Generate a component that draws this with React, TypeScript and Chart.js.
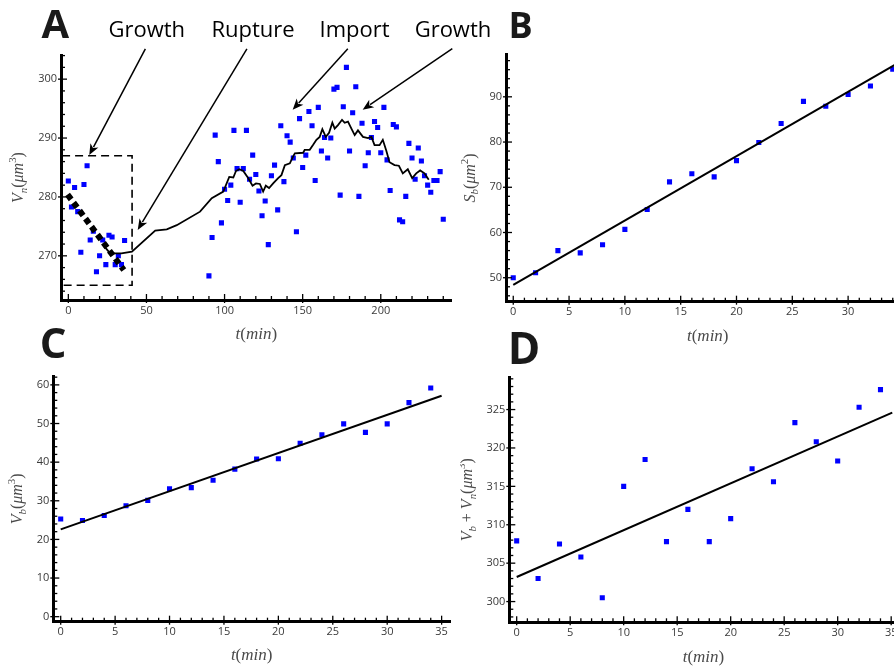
import React, { useEffect, useRef } from "react";
import { Chart, registerables } from "chart.js";

Chart.register(...registerables);

// ================= Panel A : nucleus volume =================
const A_T = [
  0, 2, 4, 6, 8, 10, 12, 14, 16, 18, 20, 22, 24, 26, 28, 30, 32, 34, 36,
  90, 92, 94, 96, 98, 100, 102, 104, 106, 108, 110, 112, 114, 116, 118, 120, 122, 124, 126, 128, 130, 132, 134, 136, 138, 140, 142, 144, 146,
  148, 150, 152, 154, 156, 158, 160, 162, 164, 166, 168, 170, 172, 174, 176, 178, 180, 182, 184, 186, 188, 190, 192, 194, 196,
  198, 200, 202, 204, 206, 208, 210, 212, 214, 216, 218, 220, 222, 224, 226, 228, 230, 232, 234, 236, 238, 240,
];
const A_V = [
  282.7, 278.3, 281.6, 277.5, 270.6, 282.1, 285.3, 272.7, 274.2, 267.3, 270.0, 272.7, 268.5, 273.5, 273.2, 268.5, 270.0, 268.5, 272.6,
  266.6, 273.1, 290.5, 286.0, 275.6, 281.3, 279.4, 282.0, 291.3, 284.8, 279.1, 284.8, 291.3, 283.0, 287.1, 283.8, 281.0, 276.8, 279.3, 271.9, 283.6, 285.4, 277.8, 292.1, 282.6, 290.4, 289.3, 286.6, 274.1,
  293.3, 285.0, 287.1, 294.5, 292.1, 282.8, 295.2, 287.8, 290.1, 286.6, 290.0, 298.3, 298.6, 280.3, 295.3, 302.0, 287.8, 294.3, 298.7, 280.1, 292.5, 285.3, 287.5, 290.1, 292.8,
  291.8, 287.5, 295.2, 286.3, 281.1, 292.3, 291.9, 276.1, 275.8, 280.1, 289.1, 286.6, 283.0, 288.3, 286.1, 283.6, 282.0, 280.8, 282.8, 282.8, 284.3, 276.2,
];
const A_LINE_T = [
  23, 26.5, 30, 34, 40.7, 55.6, 63, 69.4, 84.3, 91.8, 99.2, 103, 105.6, 107.3, 109.4, 112, 115.1, 117.9, 120.1, 122.6,
  124.7, 126.4, 128.5, 131.1, 134.3, 136.4, 138.6, 141.8, 143.9, 145, 150.3, 151.3, 154.5, 156.6, 158.8, 160.9, 162.6,
  164.8, 166.9, 169, 170.5, 172.6, 175.2, 176.9, 179, 181.2, 183.3, 185.4, 188.6, 191.8, 194, 196, 199.2, 201.3, 203.5,
  205.6, 208.8, 211.6, 214.1, 217.3, 220.1, 222.7, 225.2, 228, 230.7,
];
const A_LINE_V = [
  271.6, 270.5, 270.4, 270.4, 270.7, 274.3, 274.5, 275.2, 277.5, 279.8, 280.9, 283.4, 283.3, 284.4, 284.7, 284.4, 283.2, 281.9, 282.3, 282.2,
  280.9, 281.9, 281.5, 282.3, 283.2, 283.7, 285.4, 285.7, 286.9, 287.4, 287.5, 288, 288, 288.8, 289.7, 290.2, 291.5,
  290.2, 290.9, 292.6, 291.6, 292.2, 293.1, 292.6, 292.8, 291.6, 290.5, 291.3, 290.2, 290, 290.2, 288.8, 288.8, 289.7, 287.9,
  285.9, 285.4, 285.3, 284, 284.7, 283.2, 284, 284.5, 284, 282.9,
];
const A_FIT_T = [-0.5, 35.5];
const A_FIT_V = [280.4, 267.6];
const A_BOX_T = [-4, 40.8];
const A_BOX_V = [265, 287];
const A_XTICKS = [0, 50, 100, 150, 200];
const A_YTICKS = [270, 280, 290, 300];
const A_LABELS = ["Growth", "Rupture", "Import", "Growth"];
const A_LABEL_T = [50.2, 118.2, 183.2, 246.2];
const A_LABEL_V = 307.2;
const A_ARROW_TAIL_T = [49.3, 114.3, 178.9, 245.8];
const A_ARROW_TAIL_V = [305.15, 305.15, 305.15, 305.2];
const A_ARROW_TIP_T = [13.4, 44.4, 143.6, 188.4];
const A_ARROW_TIP_V = [287.1, 274.4, 294.8, 294.8];

// ================= Panels B, C, D =================
const T = [0, 2, 4, 6, 8, 10, 12, 14, 16, 18, 20, 22, 24, 26, 28, 30, 32, 34];
const B_S = [50.0, 51.1, 56.0, 55.5, 57.3, 60.7, 65.1, 71.2, 73.0, 72.3, 75.9, 79.9, 84.1, 89.0, 87.9, 90.5, 92.4, 96.1];
const B_FIT_T = [0, 35];
const B_FIT_S = [48.4, 98.2];
const B_XTICKS = [0, 5, 10, 15, 20, 25, 30, 35];
const B_YTICKS = [50, 60, 70, 80, 90];

const C_V = [25.3, 24.9, 26.2, 28.7, 30.1, 33.1, 33.4, 35.3, 38.2, 40.8, 40.9, 44.9, 47.1, 49.9, 47.7, 49.9, 55.4, 59.2];
const C_FIT_T = [0, 35];
const C_FIT_V = [22.6, 57.2];
const C_XTICKS = [0, 5, 10, 15, 20, 25, 30, 35];
const C_YTICKS = [0, 10, 20, 30, 40, 50, 60];

const D_V = [307.9, 303.0, 307.5, 305.8, 300.5, 315.0, 318.5, 307.8, 312.0, 307.8, 310.8, 317.3, 315.6, 323.3, 320.8, 318.3, 325.3, 327.6];
const D_FIT_T = [0, 35.1];
const D_FIT_V = [303.2, 324.6];
const D_XTICKS = [0, 5, 10, 15, 20, 25, 30, 35];
const D_YTICKS = [300, 305, 310, 315, 320, 325];

// ================= styling =================
const BLUE = "#0000ff";
const TICK_FONT = { family: "'Open Sans', sans-serif", size: 11 };
const TICK_COLOR = "#3a3a3a";
const TITLE_COLOR = "#4a4a4a";

type Part = { t: string; it?: boolean; sub?: boolean; sup?: boolean };

const X_TITLE: Part[] = [{ t: "t", it: true }, { t: "(" }, { t: "min", it: true }, { t: ")" }];
const A_Y_TITLE: Part[] = [{ t: "V", it: true }, { t: "n", it: true, sub: true }, { t: "(" }, { t: "μm", it: true }, { t: "3", sup: true }, { t: ")" }];
const B_Y_TITLE: Part[] = [{ t: "S", it: true }, { t: "b", it: true, sub: true }, { t: "(" }, { t: "μm", it: true }, { t: "2", sup: true }, { t: ")" }];
const C_Y_TITLE: Part[] = [{ t: "V", it: true }, { t: "b", it: true, sub: true }, { t: "(" }, { t: "μm", it: true }, { t: "3", sup: true }, { t: ")" }];
const D_Y_TITLE: Part[] = [
  { t: "V", it: true }, { t: "b", it: true, sub: true }, { t: " + " }, { t: "V", it: true }, { t: "n", it: true, sub: true },
  { t: "(" }, { t: "μm", it: true }, { t: "3", sup: true }, { t: ")" },
];

function drawMath(ctx: CanvasRenderingContext2D, parts: Part[], cx: number, cy: number, size: number, rotated: boolean) {
  ctx.save();
  ctx.translate(cx, cy);
  if (rotated) ctx.rotate(-Math.PI / 2);
  const fontFor = (p: Part) => `${p.it ? "italic " : ""}${p.sub || p.sup ? size * 0.68 : size}px 'Liberation Serif', serif`;
  const widths = parts.map((p) => {
    ctx.font = fontFor(p);
    return ctx.measureText(p.t).width;
  });
  const total = widths.reduce((a, b) => a + b, 0);
  let x = -total / 2;
  ctx.textAlign = "left";
  ctx.textBaseline = "alphabetic";
  const base = size * 0.255;
  parts.forEach((p, i) => {
    ctx.font = fontFor(p);
    const dy = p.sub ? size * 0.22 : p.sup ? -size * 0.42 : 0;
    ctx.fillText(p.t, x, base + dy);
    x += widths[i];
  });
  ctx.restore();
}

const pts = (xs: number[], ys: number[]) => xs.map((x, i) => ({ x, y: ys[i] }));

const scatterSet = (xs: number[], ys: number[]) => ({
  data: pts(xs, ys),
  showLine: false,
  pointStyle: "rect",
  pointRadius: 3.6,
  pointBorderWidth: 0,
  pointBackgroundColor: BLUE,
  pointBorderColor: BLUE,
});

const lineSet = (xs: number[], ys: number[], width: number, dash: number[] = []) => ({
  data: pts(xs, ys),
  showLine: true,
  borderColor: "#000",
  borderWidth: width,
  borderDash: dash,
  pointRadius: 0,
  tension: 0,
  fill: false,
});

interface Spec {
  left: number; top: number; width: number; height: number;
  pad: { left: number; top: number; right: number; bottom: number };
  yWidth: number; xHeight: number;
  xMin: number; xMax: number; xTicks: number[]; xMajor: number; xMinor: number;
  yMin: number; yMax: number; yTicks: number[]; yMajor: number; yMinor: number;
  datasets: any[];
  yTitle: Part[]; yTitleOffset: number; xTitleOffset: number;
  letter: string; letterX: number; letterY: number; letterSize: number;
  extra?: (chart: any) => void;
}

function framePlugin(spec: Spec) {
  return {
    id: "frame" + spec.letter,
    afterDraw(chart: any) {
      const { ctx, chartArea: ca, scales } = chart;
      const xs = scales.x;
      const ys = scales.y;
      ctx.save();
      ctx.strokeStyle = "#000";
      ctx.lineWidth = 1.3;
      const xr = Math.round(spec.xMajor / spec.xMinor);
      for (let k = Math.ceil(spec.xMin / spec.xMinor); k * spec.xMinor <= spec.xMax + 1e-9; k++) {
        const p = xs.getPixelForValue(k * spec.xMinor);
        const major = k % xr === 0;
        ctx.beginPath();
        ctx.moveTo(p, ca.bottom + (major ? 3 : 0));
        ctx.lineTo(p, ca.bottom - (major ? 6 : 4));
        ctx.stroke();
      }
      const yr = Math.round(spec.yMajor / spec.yMinor);
      for (let k = Math.ceil(spec.yMin / spec.yMinor); k * spec.yMinor <= spec.yMax + 1e-9; k++) {
        const p = ys.getPixelForValue(k * spec.yMinor);
        const major = k % yr === 0;
        ctx.beginPath();
        ctx.moveTo(ca.left - (major ? 3 : 0), p);
        ctx.lineTo(ca.left + (major ? 6 : 4), p);
        ctx.stroke();
      }
      ctx.fillStyle = TITLE_COLOR;
      drawMath(ctx, X_TITLE, (ca.left + ca.right) / 2, ca.bottom + spec.xTitleOffset, 17, false);
      drawMath(ctx, spec.yTitle, ca.left - spec.yTitleOffset, (ca.top + ca.bottom) / 2, 16, true);
      ctx.fillStyle = "#1a1a1a";
      ctx.font = `700 ${spec.letterSize}px 'Open Sans', sans-serif`;
      ctx.textAlign = "left";
      ctx.textBaseline = "alphabetic";
      ctx.fillText(spec.letter, spec.letterX, spec.letterY);
      if (spec.extra) spec.extra(chart);
      ctx.restore();
    },
  };
}

function buildConfig(spec: Spec): any {
  const axisCommon = {
    type: "linear",
    grid: { display: false, drawTicks: false },
    border: { display: true, width: 3, color: "#000" },
  };
  return {
    type: "scatter",
    data: { datasets: spec.datasets },
    options: {
      animation: false,
      responsive: false,
      events: [],
      layout: { padding: spec.pad },
      plugins: { legend: { display: false }, tooltip: { enabled: false } },
      scales: {
        x: {
          ...axisCommon,
          position: "bottom",
          min: spec.xMin,
          max: spec.xMax,
          afterFit: (s: any) => { s.height = spec.xHeight; },
          afterBuildTicks: (s: any) => { s.ticks = spec.xTicks.map((v) => ({ value: v })); },
          ticks: { autoSkip: false, maxRotation: 0, padding: 4, font: TICK_FONT, color: TICK_COLOR },
        },
        y: {
          ...axisCommon,
          position: "left",
          min: spec.yMin,
          max: spec.yMax,
          afterFit: (s: any) => { s.width = spec.yWidth; },
          afterBuildTicks: (s: any) => { s.ticks = spec.yTicks.map((v) => ({ value: v })); },
          ticks: { autoSkip: false, padding: 4, font: TICK_FONT, color: TICK_COLOR },
        },
      },
    },
    plugins: [framePlugin(spec)],
  };
}

function drawAnnotationsA(chart: any) {
  const { ctx, scales } = chart;
  const xs = scales.x;
  const ys = scales.y;
  // dashed selection box
  ctx.save();
  ctx.strokeStyle = "#000";
  ctx.lineWidth = 1.6;
  ctx.setLineDash([8, 5]);
  const bx0 = xs.getPixelForValue(A_BOX_T[0]);
  const bx1 = xs.getPixelForValue(A_BOX_T[1]);
  const by0 = ys.getPixelForValue(A_BOX_V[0]);
  const by1 = ys.getPixelForValue(A_BOX_V[1]);
  ctx.strokeRect(bx0, by1, bx1 - bx0, by0 - by1);
  ctx.restore();
  // arrows
  ctx.save();
  ctx.strokeStyle = "#000";
  ctx.fillStyle = "#000";
  ctx.lineWidth = 1.5;
  for (let i = 0; i < A_ARROW_TAIL_T.length; i++) {
    const x0 = xs.getPixelForValue(A_ARROW_TAIL_T[i]);
    const y0 = ys.getPixelForValue(A_ARROW_TAIL_V[i]);
    const x1 = xs.getPixelForValue(A_ARROW_TIP_T[i]);
    const y1 = ys.getPixelForValue(A_ARROW_TIP_V[i]);
    const ang = Math.atan2(y1 - y0, x1 - x0);
    const hl = 11;
    const hw = 4.5;
    const bxp = x1 - hl * Math.cos(ang);
    const byp = y1 - hl * Math.sin(ang);
    ctx.beginPath();
    ctx.moveTo(x0, y0);
    ctx.lineTo(bxp + 2 * Math.cos(ang), byp + 2 * Math.sin(ang));
    ctx.stroke();
    ctx.beginPath();
    ctx.moveTo(x1, y1);
    ctx.lineTo(bxp - hw * Math.sin(ang), byp + hw * Math.cos(ang));
    ctx.lineTo(bxp + 3 * Math.cos(ang), byp + 3 * Math.sin(ang));
    ctx.lineTo(bxp + hw * Math.sin(ang), byp - hw * Math.cos(ang));
    ctx.closePath();
    ctx.fill();
  }
  // stage labels
  ctx.font = "22px 'Open Sans', sans-serif";
  ctx.textAlign = "center";
  ctx.textBaseline = "alphabetic";
  for (let i = 0; i < A_LABELS.length; i++) {
    ctx.fillText(A_LABELS[i], xs.getPixelForValue(A_LABEL_T[i]), ys.getPixelForValue(A_LABEL_V));
  }
  ctx.restore();
}

const SPECS: Spec[] = [
  {
    left: 0, top: 0, width: 500, height: 350,
    pad: { left: 0, top: 55, right: 48.3, bottom: 0 }, yWidth: 61, xHeight: 50,
    xMin: -4.7, xMax: 245.4, xTicks: A_XTICKS, xMajor: 50, xMinor: 10,
    yMin: 262.5, yMax: 304.1, yTicks: A_YTICKS, yMajor: 10, yMinor: 2,
    datasets: [lineSet(A_FIT_T, A_FIT_V, 6, [6, 4]), lineSet(A_LINE_T, A_LINE_V, 1.8), scatterSet(A_T, A_V)],
    yTitle: A_Y_TITLE, yTitleOffset: 42, xTitleOffset: 34.5,
    letter: "A", letterX: 41.5, letterY: 38.3, letterSize: 40,
    extra: drawAnnotationsA,
  },
  {
    left: 460, top: 0, width: 470, height: 350,
    pad: { left: 0, top: 54.3, right: 20.5, bottom: 0 }, yWidth: 46, xHeight: 48.3,
    xMin: -0.65, xMax: 35.5, xTicks: B_XTICKS, xMajor: 5, xMinor: 1,
    yMin: 44.7, yMax: 99.4, yTicks: B_YTICKS, yMajor: 10, yMinor: 2,
    datasets: [lineSet(B_FIT_T, B_FIT_S, 2), scatterSet(T, B_S)],
    yTitle: B_Y_TITLE, yTitleOffset: 35.5, xTitleOffset: 34.8,
    letter: "B", letterX: 48.5, letterY: 38.3, letterSize: 36,
  },
  {
    left: 0, top: 310, width: 460, height: 356,
    pad: { left: 0, top: 66, right: 10, bottom: 0 }, yWidth: 53.3, xHeight: 44.3,
    xMin: -0.68, xMax: 35.77, xTicks: C_XTICKS, xMajor: 5, xMinor: 1,
    yMin: -1.3, yMax: 62.3, yTicks: C_YTICKS, yMajor: 10, yMinor: 2,
    datasets: [lineSet(C_FIT_T, C_FIT_V, 2), scatterSet(T, C_V)],
    yTitle: C_Y_TITLE, yTitleOffset: 35.3, xTitleOffset: 33.8,
    letter: "C", letterX: 39.7, letterY: 47.5, letterSize: 42,
  },
  {
    left: 460, top: 310, width: 470, height: 356,
    pad: { left: 0, top: 67.3, right: 32.4, bottom: 0 }, yWidth: 49.3, xHeight: 43.7,
    xMin: -0.69, xMax: 35.6, xTicks: D_XTICKS, xMajor: 5, xMinor: 1,
    yMin: 297.3, yMax: 329.2, yTicks: D_YTICKS, yMajor: 5, yMinor: 1,
    datasets: [lineSet(D_FIT_T, D_FIT_V, 2), scatterSet(T, D_V)],
    yTitle: D_Y_TITLE, yTitleOffset: 41.3, xTitleOffset: 35.2,
    letter: "D", letterX: 47.7, letterY: 54, letterSize: 44,
  },
];

function Panel({ spec }: { spec: Spec }) {
  const ref = useRef<HTMLCanvasElement>(null);
  useEffect(() => {
    const chart = new Chart(ref.current as HTMLCanvasElement, buildConfig(spec));
    return () => chart.destroy();
  }, [spec]);
  return (
    <canvas
      ref={ref}
      width={spec.width}
      height={spec.height}
      style={{ position: "absolute", left: spec.left, top: spec.top, width: spec.width, height: spec.height }}
    />
  );
}

export default function App() {
  return (
    <div
      style={{
        position: "fixed",
        left: 0,
        top: 0,
        width: 894,
        height: 666,
        overflow: "hidden",
        background: "#fff",
      }}
    >
      {SPECS.map((s) => (
        <Panel key={s.letter} spec={s} />
      ))}
    </div>
  );
}
